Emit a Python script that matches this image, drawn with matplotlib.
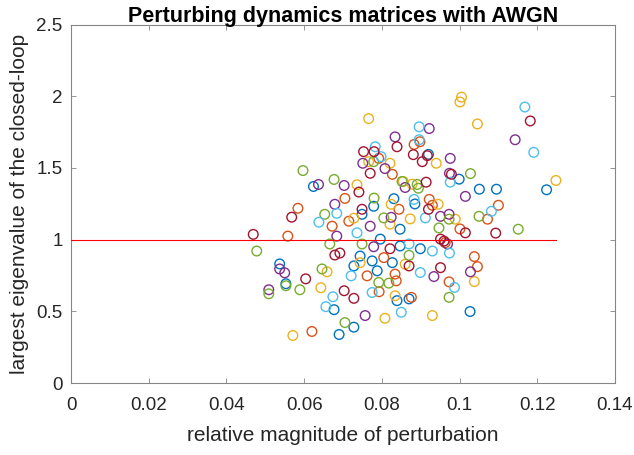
import matplotlib
matplotlib.use("Agg")
import matplotlib.pyplot as plt
from matplotlib.ticker import FormatStrFormatter

plt.rcParams['font.family'] = ['Liberation Sans', 'DejaVu Sans']

# values, one list pair per colour of MATLAB's order
blue_x = [0.0537, 0.0553, 0.0677, 0.0690, 0.0624, 0.0920, 0.0779, 0.0831, 0.0885, 0.0749,
          0.0999, 0.1051, 0.1095, 0.1224, 0.1027, 0.0847, 0.0796, 0.0847, 0.0899, 0.0744,
          0.0775, 0.0827, 0.0728, 0.0788, 0.0839, 0.0870, 0.0728]
blue_y = [0.831, 0.693, 0.512, 0.339, 1.371, 1.595, 1.233, 1.286, 1.249, 1.177,
          1.422, 1.352, 1.352, 1.348, 0.499, 1.073, 1.004, 0.956, 0.937, 0.886,
          0.852, 0.840, 0.817, 0.783, 0.575, 0.587, 0.390]

orange_x = [0.0558, 0.0672, 0.0620, 0.0705, 0.0584, 0.0883, 0.0898, 0.0792, 0.0827, 0.0844,
            0.0922, 0.0930, 0.1100, 0.1072, 0.1001, 0.1038, 0.1046, 0.0973, 0.0715, 0.0963,
            0.0805, 0.0762, 0.0834, 0.0837, 0.0793, 0.0876]
orange_y = [1.025, 1.094, 0.360, 1.288, 1.219, 1.664, 1.683, 1.567, 1.456, 1.212,
            1.281, 1.240, 1.240, 1.143, 1.075, 0.882, 0.812, 0.706, 1.129, 0.979,
            0.875, 0.748, 0.760, 0.713, 0.637, 0.598]

yellow_x = [0.0659, 0.0643, 0.0571, 0.0766, 0.0940, 0.0766, 0.0821, 0.0736, 0.0878, 0.0855,
            0.0824, 0.0945, 0.0728, 0.1005, 0.1001, 0.1046, 0.1248, 0.0989, 0.1038, 0.0821,
            0.0873, 0.0860, 0.0744, 0.0834, 0.0808, 0.0930]
yellow_y = [0.776, 0.665, 0.332, 1.844, 1.533, 1.544, 1.533, 1.383, 1.387, 1.406,
            1.247, 1.247, 1.150, 1.994, 1.960, 1.807, 1.413, 1.143, 0.708, 1.108,
            1.145, 0.829, 0.840, 0.609, 0.452, 0.471]

purple_x = [0.0684, 0.0537, 0.0550, 0.0509, 0.0637, 0.0703, 0.0679, 0.0922, 0.0834, 0.0976,
            0.0751, 0.0808, 0.0974, 0.0860, 0.0824, 0.0951, 0.0973, 0.1143, 0.1015, 0.0969,
            0.1028, 0.0770, 0.0779, 0.0934, 0.0757]
purple_y = [1.025, 0.796, 0.769, 0.651, 1.385, 1.378, 1.247, 1.775, 1.717, 1.567,
            1.533, 1.496, 1.463, 1.364, 1.156, 1.163, 1.177, 1.697, 1.302, 0.970,
            0.776, 1.094, 0.951, 0.743, 0.471]

green_x = [0.0478, 0.0666, 0.0646, 0.0509, 0.0553, 0.0589, 0.0705, 0.0597, 0.0677, 0.0653,
           0.0779, 0.0852, 0.0891, 0.0894, 0.0780, 0.0805, 0.1028, 0.1050, 0.0973, 0.1151,
           0.0973, 0.0947, 0.0749, 0.0870, 0.0792, 0.0818]
green_y = [0.921, 0.970, 0.796, 0.623, 0.679, 0.651, 0.422, 1.482, 1.420, 1.177,
           1.544, 1.406, 1.385, 1.359, 1.290, 1.152, 1.461, 1.163, 1.143, 1.073,
           0.598, 1.082, 0.970, 0.891, 0.702, 0.697]

cyan_x = [0.0638, 0.0674, 0.0656, 0.0684, 0.0896, 0.0896, 0.0783, 0.0798, 0.0976, 0.0883,
          0.1168, 0.1191, 0.1082, 0.0974, 0.0987, 0.0736, 0.0912, 0.0870, 0.0930, 0.0721,
          0.0899, 0.0775, 0.0850]
cyan_y = [1.122, 0.602, 0.533, 1.184, 1.787, 1.697, 1.648, 1.579, 1.401, 1.281,
          1.925, 1.609, 1.198, 0.907, 0.667, 1.048, 1.152, 0.970, 0.921, 0.748,
          0.771, 0.632, 0.494]

darkred_x = [0.0469, 0.0568, 0.0679, 0.0692, 0.0604, 0.0703, 0.0839, 0.0753, 0.0780, 0.0881,
             0.0917, 0.0904, 0.0770, 0.0741, 0.0914, 0.0920, 0.0749, 0.1182, 0.0979, 0.1015,
             0.1093, 0.0951, 0.0960, 0.0821, 0.0870, 0.0951, 0.0728]
darkred_y = [1.037, 1.157, 0.893, 0.907, 0.727, 0.644, 1.648, 1.614, 1.614, 1.593,
             1.586, 1.544, 1.463, 1.332, 1.401, 1.212, 1.212, 1.828, 1.456, 1.048,
             1.046, 1.004, 0.990, 0.937, 0.817, 0.805, 0.591]

series = [
    (blue_x, blue_y, "#0072BD"),
    (orange_x, orange_y, "#D95319"),
    (yellow_x, yellow_y, "#EDB120"),
    (purple_x, purple_y, "#7E2F8E"),
    (green_x, green_y, "#77AC30"),
    (cyan_x, cyan_y, "#4DBEEE"),
    (darkred_x, darkred_y, "#A2142F"),
]

fig = plt.figure(figsize=(6.34, 4.55), dpi=100)
ax = fig.add_axes([0.112, 0.158, 0.858, 0.788])

for xs, ys, col in series:
    ax.scatter(xs, ys, s=48, facecolors="none", edgecolors=col, linewidths=1.0)

# threshold line at 1, out to the largest perturbation
xmax = max(max(s[0]) for s in series)
ax.plot([0, xmax], [1, 1], color="#FF0000", linewidth=0.8, zorder=3)

ax.set_xlim(0, 0.14)
ax.set_ylim(0, 2.5)
ax.set_xticks([0, 0.02, 0.04, 0.06, 0.08, 0.1, 0.12, 0.14])
ax.set_yticks([0, 0.5, 1, 1.5, 2, 2.5])
ax.xaxis.set_major_formatter(FormatStrFormatter('%g'))
ax.yaxis.set_major_formatter(FormatStrFormatter('%g'))

gray = "#262626"
for sp in ax.spines.values():
    sp.set_color("#858585")
    sp.set_linewidth(0.8)
ax.tick_params(direction="in", top=True, right=True, length=3.5, width=0.6,
               colors="#858585", labelcolor=gray, labelsize=13.5)
ax.tick_params(axis="x", pad=10)
ax.tick_params(axis="y", pad=6)

ax.set_xlabel("relative magnitude of perturbation", fontsize=15, color=gray, labelpad=9)
ax.set_ylabel("largest eigenvalue of the closed-loop", fontsize=15, color=gray, labelpad=5)
ax.set_title("Perturbing dynamics matrices with AWGN", fontsize=15.5, fontweight="bold", pad=2)

fig.savefig("out.png", dpi=100)
